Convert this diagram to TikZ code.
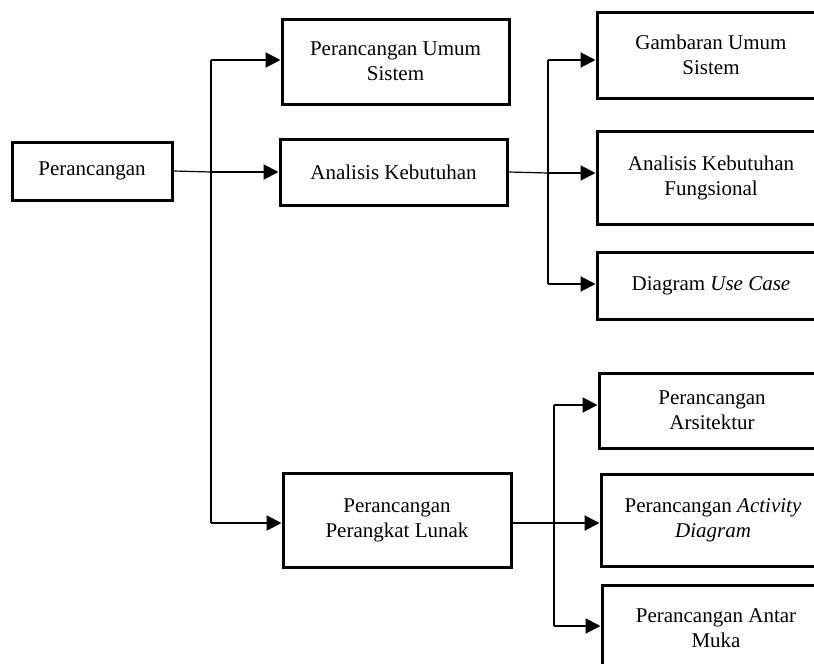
\documentclass[tikz,border=0pt]{standalone}
\usepackage{fontspec}
\setmainfont{Liberation Serif}
\usetikzlibrary{arrows.meta}
\begin{document}
\begin{tikzpicture}[x=1pt,y=-1pt,
  box/.style={draw,line width=3pt,rectangle,inner sep=0pt,align=center,
    font=\fontsize{21}{25}\selectfont},
  arr/.style={line width=2pt,-{Triangle[length=15pt,width=15pt]}},
  trunk/.style={line width=2pt},
  thinline/.style={line width=1.2pt}]
\clip (0,0) rectangle (814,664);
\fill[white] (0,0) rectangle (814,664);
% nodes
\node[box,minimum width=160pt,minimum height=58pt] (p0) at (92,171) {Perancangan};
\node[box,minimum width=227pt,minimum height=85pt] (umum) at (395.5,61.5) {Perancangan Umum\\Sistem};
\node[box,minimum width=227pt,minimum height=66pt] (ak) at (393.5,172) {Analisis Kebutuhan};
\node[box,minimum width=228pt,minimum height=94pt] (ppl) at (397,520) {Perancangan\\Perangkat Lunak};
\node[box,minimum width=228pt,minimum height=86pt] (gus) at (711,55) {Gambaran Umum\\Sistem};
\node[box,minimum width=228pt,minimum height=93pt] (akf) at (711,177.5) {Analisis Kebutuhan\\Fungsional};
\node[box,minimum width=228pt,minimum height=67pt] (duc) at (711,285.5) {Diagram \textit{Use Case}};
\node[box,minimum width=226pt,minimum height=75pt] (pa) at (712,410.5) {Perancangan\\Arsitektur};
\node[box,minimum width=224pt,minimum height=92pt] (pad) at (713,520) {Perancangan \textit{Activity}\\\textit{Diagram}};
\node[box,minimum width=228pt,minimum height=87pt] (pam) at (716,628.5) {Perancangan Antar\\Muka};
% trunk 1
\coordinate (t1a) at (211,60);
\coordinate (t1b) at (211,172);
\coordinate (t1c) at (211,523);
\draw[trunk] (t1a) -- (t1c);
\draw[thinline] (p0.east) -- (t1b);
\draw[arr] (t1a) -- (t1a -| umum.west);
\draw[arr] (t1b) -- (t1b -| ak.west);
\draw[arr] (t1c) -- (t1c -| ppl.west);
% trunk 2
\coordinate (t2a) at (548,60);
\coordinate (t2b) at (548,173);
\coordinate (t2c) at (548,284);
\draw[trunk] (t2a) -- (t2c);
\draw[thinline] (ak.east) -- (t2b);
\draw[arr] (t2a) -- (t2a -| gus.west);
\draw[arr] (t2b) -- (t2b -| akf.west);
\draw[arr] (t2c) -- (t2c -| duc.west);
% trunk 3
\coordinate (t3a) at (554,405);
\coordinate (t3b) at (554,523);
\coordinate (t3c) at (554,626);
\draw[trunk] (t3a) -- (t3c);
\draw[thinline] (ppl.east |- t3b) -- (t3b);
\draw[arr] (t3a) -- (t3a -| pa.west);
\draw[arr] (t3b) -- (t3b -| pad.west);
\draw[arr] (t3c) -- (t3c -| pam.west);
\end{tikzpicture}
\end{document}
